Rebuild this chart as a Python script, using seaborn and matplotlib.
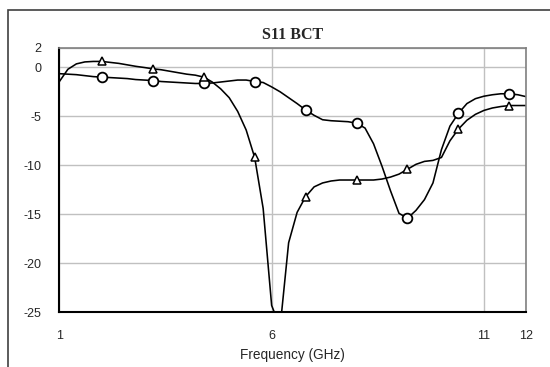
import seaborn as sns
import numpy as np
import pandas as pd
import matplotlib.pyplot as plt
from matplotlib.patches import Rectangle

# frequency grid (GHz), one reading every 0.2 GHz
freq = [1.0, 1.2, 1.4, 1.6, 1.8, 2.0, 2.2, 2.4, 2.6, 2.8,
        3.0, 3.2, 3.4, 3.6, 3.8, 4.0, 4.2, 4.4, 4.6, 4.8,
        5.0, 5.2, 5.4, 5.6, 5.8, 6.0, 6.2, 6.4, 6.6, 6.8,
        7.0, 7.2, 7.4, 7.6, 7.8, 8.0, 8.2, 8.4, 8.6, 8.8,
        9.0, 9.2, 9.4, 9.6, 9.8, 10.0, 10.2, 10.4, 10.6, 10.8,
        11.0, 11.2, 11.4, 11.6, 11.8, 12.0]

# S11 (dB), circle markers
s11_circle = [-0.65, -0.7, -0.75, -0.85, -0.95, -1.0, -1.05, -1.1, -1.15, -1.25,
              -1.3, -1.35, -1.45, -1.5, -1.55, -1.6, -1.65, -1.65, -1.6, -1.5,
              -1.4, -1.3, -1.3, -1.45, -1.55, -2.0, -2.5, -3.1, -3.7, -4.35,
              -4.9, -5.35, -5.45, -5.5, -5.55, -5.7, -6.2, -7.8, -10.1, -12.6,
              -14.9, -15.4, -14.6, -13.5, -11.8, -8.4, -6.0, -4.7, -3.7, -3.2,
              -2.95, -2.8, -2.7, -2.7, -2.8, -3.0]

# S11 (dB), triangle markers
s11_triangle = [-1.45, -0.2, 0.35, 0.55, 0.6, 0.6, 0.5, 0.4, 0.25, 0.1,
                -0.02, -0.15, -0.25, -0.4, -0.55, -0.7, -0.8, -1.0, -1.5, -2.2,
                -3.1, -4.5, -6.4, -9.2, -14.4, -24.3, -26.5, -17.9, -14.8, -13.2,
                -12.2, -11.8, -11.6, -11.5, -11.5, -11.5, -11.5, -11.5, -11.4, -11.2,
                -10.9, -10.4, -9.9, -9.6, -9.5, -9.2, -7.5, -6.3, -5.4, -4.8,
                -4.4, -4.15, -4.0, -3.9, -3.9, -3.9]

y_ticks = [2, 0, -5, -10, -15, -20, -25]
x_ticks = [1, 6, 11, 12]

df = pd.DataFrame({"freq": freq, "circle": s11_circle, "triangle": s11_triangle})

sns.set_style("white")
plt.rcParams['font.family'] = ['Liberation Sans', 'DejaVu Sans']
plt.rcParams['axes.unicode_minus'] = False

fig = plt.figure(figsize=(5.5, 3.67), dpi=100)
ax = fig.add_axes([0.108, 0.149, 0.849, 0.721])

marks = slice(5, None, 6)
sns.lineplot(data=df, x="freq", y="circle", ax=ax, color="black", lw=1.15,
             marker="o", markevery=marks, markersize=7, mfc="white",
             mec="black", mew=1.3)
sns.lineplot(data=df, x="freq", y="triangle", ax=ax, color="black", lw=1.15,
             marker="^", markevery=marks, markersize=5.5, mfc="white",
             mec="black", mew=1.1)

ax.set_xlim(1, 12)
ax.set_ylim(-25, 2)
ax.set_xticks(x_ticks)
ax.set_yticks(y_ticks)
ax.grid(True, color="#c0c0c0", lw=1)
ax.tick_params(length=0, labelsize=9, pad=13)

for s in ["left", "bottom"]:
    ax.spines[s].set_color("black")
    ax.spines[s].set_linewidth(1.5)
for s in ["top", "right"]:
    ax.spines[s].set_color("#808080")
    ax.spines[s].set_linewidth(1.2)

ax.set_xlabel("Frequency (GHz)", fontsize=9.8, labelpad=4)
ax.set_ylabel("")
ax.set_title("S11 BCT", fontsize=11.5, fontweight="bold",
             family=["Liberation Serif", "DejaVu Serif"], pad=6)

# outer chart border (only top and left edges fall inside the image)
fig.patches.append(Rectangle((8 / 550, -0.2), 1.2, 0.2 + 1 - 10 / 367,
                             transform=fig.transFigure, fill=False,
                             edgecolor="#404040", lw=1.2))

fig.savefig("out.png", dpi=100)
